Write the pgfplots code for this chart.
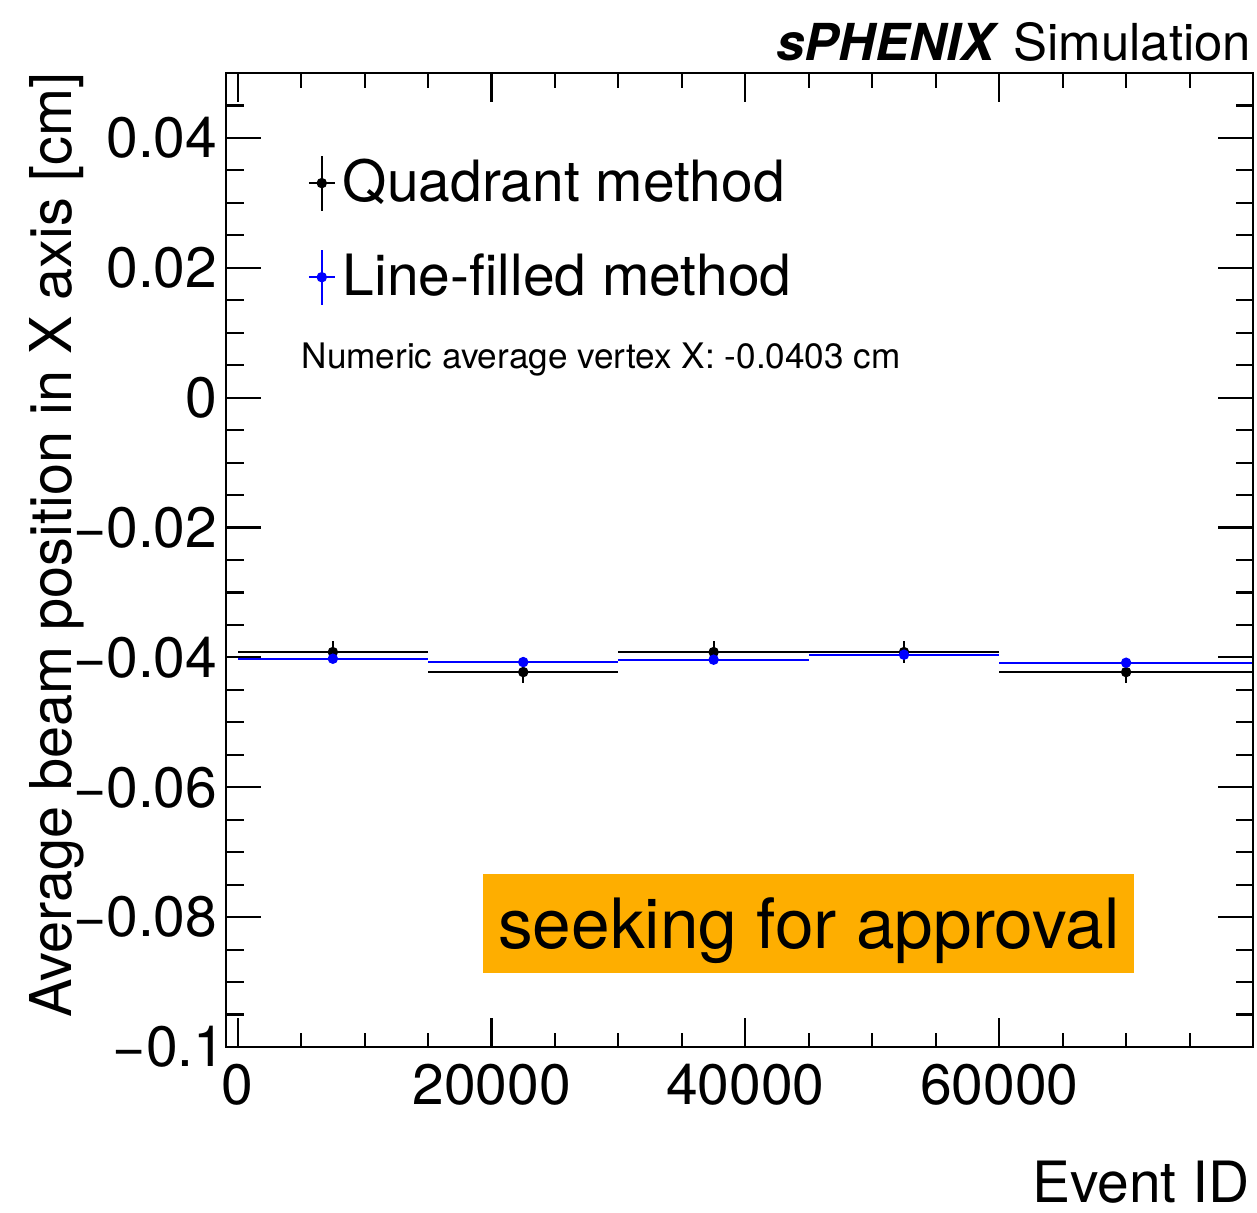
\documentclass[border=0pt]{standalone}
\usepackage{fontspec}
\setmainfont{TeX Gyre Heros}
\usepackage{pgfplots}
\usepackage{pgfplotstable}
\pgfplotsset{compat=1.18}

\definecolor{approval}{RGB}{254,174,0}

% bin centre, half width, mean beam position, uncertainty
\pgfplotstableread{
x ex y ey
7500 7500 -0.03918 0.0017
22500 7500 -0.04226 0.0017
37500 7500 -0.03918 0.0017
52500 7500 -0.03918 0.0017
70000 10000 -0.04226 0.0017
}\quadrant

\pgfplotstableread{
x ex y ey
7500 7500 -0.04020 0.0004
22500 7500 -0.04072 0.0004
37500 7500 -0.04035 0.0004
52500 7500 -0.03958 0.0004
70000 10000 -0.04082 0.0004
}\linefilled

\newcommand\bigfont{\fontsize{16.2}{19.4}\selectfont}

\pgfplotsset{
  frame/.style={
    scale only axis, width=10.27cm, height=9.74cm,
    xmin=-920, xmax=80000, ymin=-0.1, ymax=0.05,
    axis line style={line width=0.6pt},
    tick align=inside,
    tick style={line width=0.6pt, black},
    xtick pos=both, ytick pos=both,
    scaled ticks=false,
    tick label style={font=\bigfont},
  },
  binned/.style={
    only marks, mark=*, mark size=0.045cm,
    mark options={solid, fill=#1, draw=#1},
    color=#1,
    error bars/x dir=both, error bars/x explicit,
    error bars/y dir=both, error bars/y explicit,
    error bars/error bar style={line width=0.6pt, #1},
    error bars/error mark=none,
    legend image code/.code={
      \draw[#1, line width=0.6pt] (0.13cm,-0.275cm) -- (0.13cm,0.275cm) (0cm,0cm) -- (0.26cm,0cm);
      \fill[#1] (0.13cm,0cm) circle (0.045cm);},
  },
}

\begin{document}
\begin{tikzpicture}
% y axis ticks, data, legend and annotations
\begin{axis}[frame,
  clip mode=individual,
  xtick=\empty,
  ytick={-0.1,-0.08,-0.06,-0.04,-0.02,0,0.02,0.04},
  yticklabels={−0.1\kern-0.08cm,−0.08,−0.06,−0.04,−0.02,0,0.02,0.04},
  minor ytick={-0.095,-0.09,-0.085,-0.075,-0.07,-0.065,-0.055,-0.05,-0.045,-0.035,-0.03,-0.025,-0.015,-0.01,-0.005,0.005,0.01,0.015,0.025,0.03,0.035,0.045},
  major tick length=0.35cm, minor tick length=0.175cm,
  yticklabel style={inner sep=0pt, xshift=-0.08cm},
  ylabel={Average beam position in X axis [cm]},
  every axis y label/.style={at={(axis description cs:-0.150,1.001)}, rotate=90, anchor=base east, font=\fontsize{16.4}{19.6}\selectfont, inner sep=0pt},
  legend style={at={(axis description cs:0.0789,0.917)}, anchor=north west,
    draw=none, fill=none, font=\bigfont, inner sep=0pt, row sep=0.37cm,
    nodes={inner sep=0pt}, column sep=0.07cm},
  legend cell align=left,
]
\fill[approval] (axis cs:19315,-0.07338) rectangle (axis cs:70654,-0.08862);
\node[anchor=base, font=\fontsize{19.75}{23}\selectfont, inner sep=0pt] at (axis cs:45000,-0.08477) {seeking for approval};
\node[anchor=base west, font=\fontsize{10}{12}\selectfont, inner sep=0pt] at (axis cs:4984,0.00446) {Numeric average vertex X: -0.0403 cm};

\addplot[binned=black] table[x=x, y=y, x error=ex, y error=ey] {\quadrant};
\addlegendentry{Quadrant method}
\addplot[binned=blue] table[x=x, y=y, x error=ex, y error=ey] {\linefilled};
\addlegendentry{Line-filled method}

\node[anchor=base east, inner sep=0pt, font=\fontsize{14.5}{17.4}\selectfont] at (axis description cs:0.999,1.013) {\textbf{\textit{sPHENIX}} Simulation};
\end{axis}
% x axis ticks and label
\begin{axis}[frame,
  ytick=\empty,
  xtick={0,20000,40000,60000},
  xticklabels={0,20000,40000,60000},
  minor xtick={5000,10000,15000,25000,30000,35000,45000,50000,55000,65000,70000,75000},
  major tick length=0.29cm, minor tick length=0.145cm,
  xticklabel style={inner sep=0pt, yshift=-0.16cm},
  xlabel={Event ID},
  every axis x label/.style={at={(axis description cs:0.997,-0.160)}, anchor=base east, font=\bigfont, inner sep=0pt},
]
\end{axis}
\pgfresetboundingbox
\path[use as bounding box] (-2.26cm,-1.65cm) rectangle (10.31cm,10.47cm);
\end{tikzpicture}
\end{document}
